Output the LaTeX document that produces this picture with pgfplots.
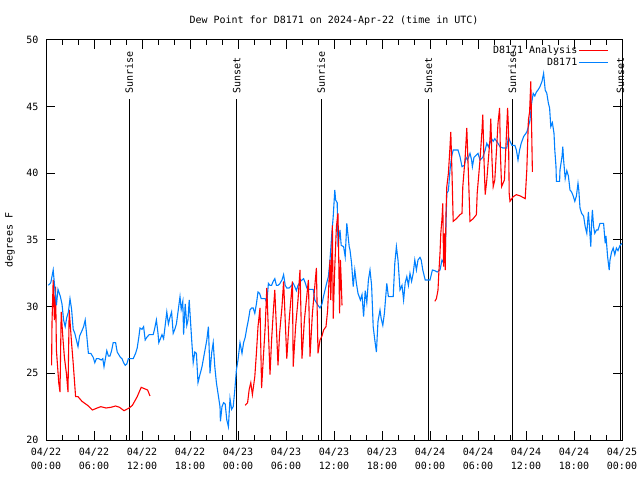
\documentclass[border=0pt]{standalone}
\usepackage{fontspec}
\setmainfont{DejaVu Sans Mono}
\usepackage{pgfplots}
\pgfplotsset{compat=1.18}
\definecolor{anared}{RGB}{255,0,0}
\definecolor{obsblue}{RGB}{0,128,255}

\pgfplotstableread{
h v
0.3 31.6
0.6 31.8
0.9 32.75
1.1 31.4
1.3 30.1
1.5 31.3
1.8 30.75
2.0 30.2
2.2 29.0
2.4 28.5
2.6 29.2
2.8 29.6
3.0 30.6
3.2 29.8
3.4 28.3
3.6 28.0
3.8 27.5
4.0 27.0
4.2 27.8
4.5 28.2
4.7 28.5
4.9 29.0
5.1 27.8
5.3 26.5
5.6 26.5
5.9 26.2
6.1 25.8
6.3 26.1
6.6 26.1
6.9 26.0
7.1 26.1
7.25 25.5
7.6 26.7
7.8 26.3
8.0 26.3
8.2 26.7
8.4 27.3
8.7 27.3
8.9 26.6
9.1 26.4
9.3 26.2
9.5 26.1
9.7 25.8
9.9 25.6
10.1 25.7
10.3 26.1
10.6 26.1
10.9 26.1
11.2 26.5
11.4 26.9
11.6 27.7
11.75 28.4
12.0 28.3
12.2 28.5
12.4 27.5
12.6 27.7
12.9 27.9
13.4 27.9
13.6 28.4
13.8 29.0
14.0 28.0
14.1 27.3
14.3 27.6
14.5 27.9
14.7 27.6
14.9 28.6
15.1 29.6
15.3 28.7
15.5 29.2
15.7 29.6
15.9 28.0
16.1 28.3
16.3 28.7
16.5 29.6
16.75 30.75
16.9 29.8
17.1 30.4
17.2 27.9
17.4 30.2
17.6 28.6
17.75 29.0
17.9 30.5
18.2 27.6
18.4 25.8
18.6 26.6
18.8 26.5
19.0 24.3
19.2 24.8
19.5 25.5
19.8 26.5
20.1 27.5
20.3 28.5
20.5 25.0
20.7 26.5
20.9 27.3
21.1 25.5
21.3 24.3
21.5 23.5
21.75 22.5
21.8 21.4
22.0 22.5
22.2 22.8
22.4 22.7
22.6 21.5
22.8 21.0
23.0 23.1
23.2 22.3
23.4 22.5
23.6 23.75
23.8 25.25
24.0 26.0
24.25 27.3
24.5 26.5
24.7 27.3
24.9 27.7
25.1 28.4
25.3 29.0
25.5 29.75
25.7 29.9
25.9 29.9
26.1 29.5
26.3 30.2
26.5 31.1
26.7 31.0
26.9 30.6
27.1 30.6
27.4 30.6
27.6 30.3
27.8 31.75
28.0 31.6
28.2 31.6
28.4 31.9
28.6 32.1
28.8 31.6
29.0 31.6
29.2 31.7
29.5 32.0
29.7 32.4
29.9 31.6
30.1 31.4
30.4 31.4
30.7 31.6
30.9 31.75
31.1 31.5
31.3 31.2
31.5 31.6
31.8 31.9
32.0 32.0
32.2 32.1
32.4 31.8
32.6 31.4
32.9 31.3
33.2 31.3
33.4 31.3
33.6 30.5
33.8 30.3
34.0 30.1
34.25 29.9
34.5 30.2
34.7 30.8
34.9 31.3
35.1 31.8
35.3 32.25
35.5 33.5
35.7 35.25
35.9 36.75
36.1 38.75
36.2 38.0
36.4 37.8
36.5 34.5
36.75 35.75
36.9 34.6
37.2 34.5
37.4 33.75
37.6 36.25
37.9 34.5
38.0 34.25
38.2 33.25
38.4 31.5
38.6 32.75
38.8 31.75
39.0 31.0
39.3 30.5
39.5 30.9
39.7 29.25
39.9 31.2
40.1 30.3
40.3 32.0
40.5 32.75
40.7 31.6
40.9 28.5
41.1 27.5
41.3 26.6
41.5 28.9
41.75 29.75
41.9 29.1
42.1 28.6
42.3 29.5
42.6 31.75
42.8 30.75
43.1 30.75
43.4 30.75
43.6 33.25
43.8 34.5
44.0 33.5
44.25 31.25
44.5 31.6
44.7 30.5
44.9 31.8
45.1 32.25
45.3 31.6
45.5 32.5
45.7 31.9
45.9 32.5
46.1 33.5
46.3 32.75
46.5 33.5
46.75 33.7
46.9 33.5
47.1 32.75
47.4 32.0
47.8 32.0
48.0 32.0
48.3 32.75
48.6 32.7
48.9 32.6
49.25 32.75
49.5 33.5
49.7 33.3
49.9 33.75
50.1 38.5
50.3 38.7
50.5 40.25
50.7 41.25
50.9 41.75
51.2 41.75
51.5 41.75
51.75 41.25
52.0 40.5
52.3 40.6
52.5 41.2
52.7 41.0
53.0 41.5
53.2 41.0
53.3 40.5
53.5 41.2
54.0 41.5
54.25 41.0
54.6 41.2
54.9 41.75
55.1 42.25
55.3 42.0
55.7 42.6
55.9 42.4
56.1 42.6
56.5 42.25
56.75 42.0
57.1 41.9
57.6 41.9
57.8 42.75
58.0 42.4
58.25 42.1
58.6 42.1
58.8 41.75
59.0 41.0
59.2 41.75
59.4 42.25
59.7 42.75
60.1 43.1
60.3 43.5
60.5 44.0
60.7 45.25
60.9 46.0
61.1 45.8
61.3 46.1
61.5 46.25
61.75 46.5
62.0 46.9
62.2 47.5
62.4 46.25
62.6 46.0
62.8 45.25
62.95 44.9
63.1 43.5
63.3 43.8
63.5 43.0
63.6 41.75
63.75 40.5
63.8 39.4
64.2 39.4
64.25 40.25
64.5 41.25
64.6 42.0
64.7 41.0
64.9 39.6
65.1 40.2
65.3 39.8
65.5 38.75
65.7 38.6
65.9 38.3
66.1 37.9
66.3 38.3
66.5 39.25
66.6 38.75
66.75 37.4
66.95 37.0
67.2 36.8
67.4 36.0
67.6 35.5
67.8 37.1
67.95 35.8
68.1 34.5
68.2 36.3
68.3 37.25
68.45 36.0
68.6 35.5
68.8 35.75
69.0 35.75
69.25 36.25
69.7 36.25
69.9 34.75
70.0 35.3
70.2 33.75
70.4 32.75
70.5 33.5
70.7 34.1
70.9 34.4
71.1 33.9
71.3 34.4
71.5 34.2
71.75 34.6
72.0 34.75
}\obs

\pgfplotstableread{
h v
0.7 25.6
0.75 28.8
0.9 32.0
1.05 29.0
1.2 31.5
1.3 26.75
1.6 24.25
1.75 23.6
1.9 29.6
2.1 27.75
2.3 26.2
2.55 25.0
2.75 23.6
2.9 29.75
3.2 27.25
3.4 25.75
3.7 23.25
4.0 23.25
4.5 22.9
5.2 22.6
5.8 22.25
6.4 22.4
6.85 22.5
7.5 22.4
8.1 22.45
8.7 22.55
9.2 22.45
9.75 22.2
10.4 22.4
10.8 22.6
11.4 23.25
11.9 23.95
12.3 23.85
12.7 23.75
13.0 23.3
}\anaA

\pgfplotstableread{
h v
24.9 22.6
25.2 22.8
25.4 23.8
25.6 24.3
25.8 23.4
26.1 24.75
26.3 26.5
26.5 28.5
26.75 29.9
26.95 23.9
27.2 26.5
27.4 28.5
27.6 31.4
28.0 24.9
28.2 27.5
28.4 29.5
28.6 31.25
29.0 25.6
29.2 28.0
29.5 30.0
29.7 31.9
30.1 26.1
30.4 29.0
30.8 31.9
30.9 25.5
31.2 28.5
31.5 30.5
31.75 32.75
32.0 26.1
32.3 29.0
32.8 32.0
33.0 26.25
33.3 29.5
33.8 32.9
34.0 26.5
34.25 27.5
34.5 27.8
34.7 28.25
35.0 28.5
35.2 29.7
35.5 33.5
35.6 30.5
35.8 36.1
35.9 29.1
36.1 33.0
36.3 36.0
36.5 37.0
36.7 29.5
36.8 33.5
36.9 32.0
37.0 30.1
}\anaB

\pgfplotstableread{
h v
48.6 30.4
48.8 30.6
49.0 31.25
49.1 32.5
49.25 34.0
49.35 35.5
49.5 36.6
49.6 37.75
49.7 33.0
49.8 35.5
49.9 32.75
50.0 37.0
50.1 39.0
50.3 40.0
50.5 42.0
50.6 43.1
50.75 40.0
50.9 36.4
51.3 36.6
51.75 36.9
52.0 37.0
52.1 39.0
52.4 41.25
52.6 43.4
52.8 40.0
53.0 36.4
53.4 36.6
53.8 36.9
53.9 38.5
54.25 41.0
54.5 43.25
54.6 44.4
54.75 41.0
54.9 38.4
55.1 39.5
55.5 42.6
55.6 44.1
55.75 41.0
55.9 39.0
56.1 39.5
56.5 43.75
56.7 44.9
56.8 41.5
56.95 39.0
57.3 39.5
57.7 44.9
57.8 43.5
57.9 38.5
58.0 37.9
58.4 38.25
58.8 38.4
59.3 38.3
59.9 38.1
60.1 40.25
60.3 44.0
60.45 44.6
60.6 46.9
60.7 43.5
60.8 40.1
}\anaC

\begin{document}
\fontsize{10bp}{11bp}\selectfont
\begin{tikzpicture}
\begin{axis}[
  name=ax, at={(0,0)}, anchor=south west,
  scale only axis, width=576bp, height=400bp,
  xmin=0, xmax=72, ymin=20, ymax=50,
  clip=false,
  axis line style={line width=1bp},
  tick style={black, line width=1bp},
  tick align=inside,
  major tick length=9bp, minor tick length=5bp,
  xtick={0,6,...,72},
  minor x tick num=2,
  ytick={20,25,...,50},
  xticklabels={{04/22\\00:00},{04/22\\06:00},{04/22\\12:00},{04/22\\18:00},{04/23\\00:00},{04/23\\06:00},{04/23\\12:00},{04/23\\18:00},{04/24\\00:00},{04/24\\06:00},{04/24\\12:00},{04/24\\18:00},{04/25\\00:00}},
  x tick label style={align=center, font=\fontsize{10bp}{13.5bp}\selectfont, yshift=-5bp},
  y tick label style={xshift=-4bp},
  /pgf/number format/assume math mode=true,
  title={Dew Point for D8171 on 2024-Apr-22 (time in UTC)},
  title style={at={(0.5,1)}, anchor=center, yshift=13bp},
  ylabel={degrees F},
  ylabel style={at={(axis description cs:-0.0625,0.5)}, anchor=center},
  legend style={at={(1,1)}, anchor=north east, xshift=-10bp, yshift=-2bp, draw=none, fill=none, legend cell align=right, row sep=0.5bp, nodes={inner sep=1.5bp}},
  legend plot pos=right,
  legend image code/.code={\draw[#1] (0bp,0bp) -- (29bp,0bp);},
]
\addlegendimage{anared, line width=1bp}
\addlegendentry{D8171 Analysis}
\addlegendimage{obsblue, line width=1bp}
\addlegendentry{D8171}
\draw[black, line width=1bp] (axis cs:10.4,20) -- (axis cs:10.4,45.6);
\draw[black, line width=1bp] (axis cs:23.83,20) -- (axis cs:23.83,45.6);
\draw[black, line width=1bp] (axis cs:34.4,20) -- (axis cs:34.4,45.6);
\draw[black, line width=1bp] (axis cs:47.8,20) -- (axis cs:47.8,45.6);
\draw[black, line width=1bp] (axis cs:58.3,20) -- (axis cs:58.3,45.6);
\draw[black, line width=1bp] (axis cs:71.8,20) -- (axis cs:71.8,45.6);
\node[rotate=90, anchor=west, inner sep=1bp] at (axis cs:10.4,45.9) {Sunrise};
\node[rotate=90, anchor=west, inner sep=1bp] at (axis cs:23.83,45.9) {Sunset};
\node[rotate=90, anchor=west, inner sep=1bp] at (axis cs:34.4,45.9) {Sunrise};
\node[rotate=90, anchor=west, inner sep=1bp] at (axis cs:47.8,45.9) {Sunset};
\node[rotate=90, anchor=west, inner sep=1bp] at (axis cs:58.3,45.9) {Sunrise};
\node[rotate=90, anchor=west, inner sep=1bp] at (axis cs:71.8,45.9) {Sunset};
\addplot[anared, line width=1.1bp, forget plot] table[x=h,y=v] {\anaA};
\addplot[obsblue, line width=1.1bp, forget plot] table[x=h,y=v] {\obs};
\addplot[anared, line width=1.1bp, forget plot] table[x=h,y=v] {\anaB};
\addplot[anared, line width=1.1bp, forget plot] table[x=h,y=v] {\anaC};
\end{axis}
\pgfresetboundingbox
\path[use as bounding box] ([xshift=-46bp,yshift=-40bp]ax.south west) rectangle ([xshift=18bp,yshift=40bp]ax.north east);
\end{tikzpicture}
\end{document}
